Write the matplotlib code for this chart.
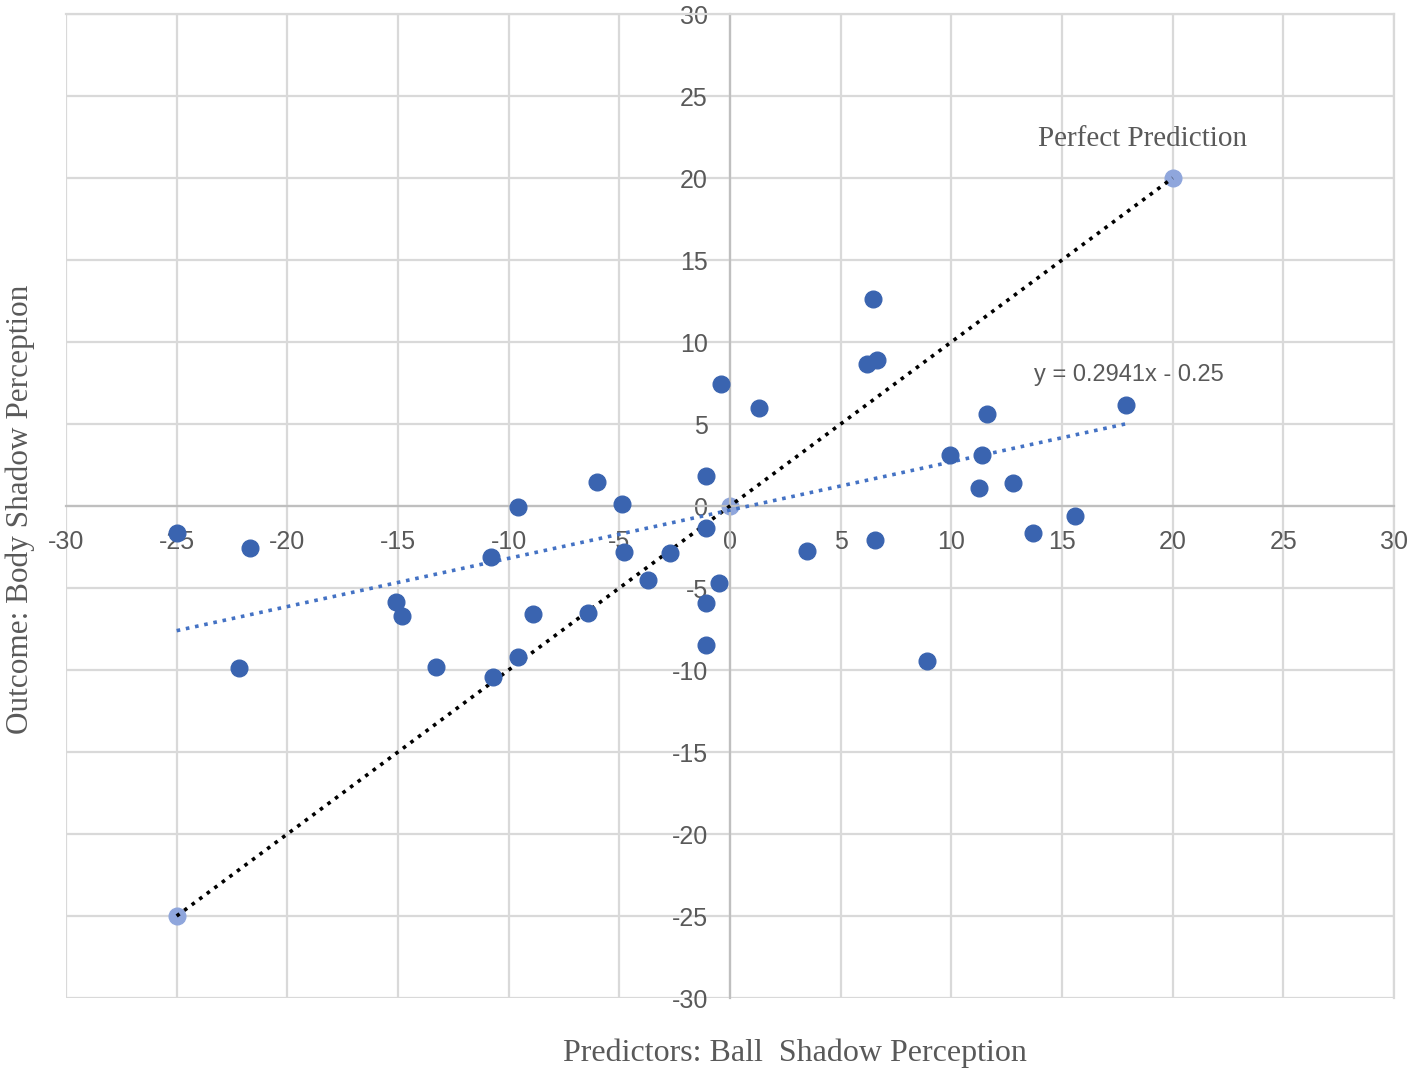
import numpy as np
import matplotlib.pyplot as plt

# Ball shadow (predictor) vs body shadow (outcome) scores
ball = [-25.0, -21.7, -22.2, -15.1, -14.8, -13.3, -10.8, -10.7, -9.6, -9.6,
        -8.9, -6.4, -6.0, -4.9, -4.8, -3.7, -2.7, -1.1, -1.1, -1.1,
        -1.1, -0.5, -0.4, 1.3, 3.5, 6.2, 6.45, 6.65, 6.55, 8.9,
        9.95, 11.25, 11.4, 11.6, 12.8, 13.7, 15.6, 17.9]
body = [-1.65, -2.55, -9.9, -5.85, -6.7, -9.8, -3.1, -10.4, -0.05, -9.2,
        -6.6, -6.5, 1.45, 0.1, -2.8, -4.5, -2.85, 1.8, -1.35, -5.9,
        -8.5, -4.7, 7.45, 6.0, -2.75, 8.65, 12.6, 8.9, -2.05, -9.45,
        3.1, 1.1, 3.1, 5.6, 1.4, -1.65, -0.6, 6.15]

perfect_x = [-25, 0, 20]
perfect_y = [-25, 0, 20]

slope, intercept = 0.2941, -0.25
ticks = list(range(-30, 31, 5))

label_grey = '#595959'
serif = ['Liberation Serif', 'DejaVu Serif']
sans = ['Liberation Sans', 'DejaVu Sans']

fig = plt.figure(figsize=(14.14, 10.76), dpi=100)
ax = fig.add_axes([66 / 1414, 1 - 998 / 1076, 1328 / 1414, 984 / 1076])

ax.set_xlim(-30, 30)
ax.set_ylim(-30, 30)
ax.set_xticks(ticks)
ax.set_yticks(ticks)
ax.grid(True, color='#d9d9d9', linewidth=1.6, zorder=0)
ax.set_axisbelow(True)

for side in ['left', 'bottom']:
    ax.spines[side].set_position('zero')
    ax.spines[side].set_color('#bfbfbf')
    ax.spines[side].set_linewidth(1.6)
for side in ['top', 'right']:
    ax.spines[side].set_color('#d9d9d9')
    ax.spines[side].set_linewidth(1.6)

ax.tick_params(length=0, labelsize=18, labelcolor=label_grey)
ax.tick_params(axis='x', pad=17)
ax.tick_params(axis='y', pad=16)
ax.set_xticklabels([str(t) for t in ticks], family=sans)
ax.set_yticklabels([str(t) for t in ticks], family=sans)

# perfect prediction line
ax.plot([perfect_x[0], perfect_x[-1]], [perfect_y[0], perfect_y[-1]],
        linestyle=(0, (1, 1.6)), color='black', linewidth=2.6, zorder=3)
ax.plot(perfect_x, perfect_y, 'o', color='#8fa6dc', markersize=12, zorder=2)

# linear trend of observed points
tx = np.array([min(ball), max(ball)])
ax.plot(tx, slope * tx + intercept, linestyle=(0, (1, 1.6)),
        color='#4472c4', linewidth=2.6, zorder=3)

ax.plot(ball, body, 'o', color='#3a64b0', markersize=12, zorder=4)

ax.text(13.75, 8.0, 'y = 0.2941x - 0.25', fontsize=17, color=label_grey,
        family=sans, va='center', ha='left')
ax.text(18.65, 22.4, 'Perfect Prediction', fontsize=21, color=label_grey,
        family=serif, va='center', ha='center')

fig.text(795 / 1414, 1 - 1053 / 1076, 'Predictors: Ball  Shadow Perception',
         fontsize=23, color=label_grey, family=serif, ha='center', va='center')
fig.text(20 / 1414, 1 - 509 / 1076, 'Outcome: Body Shadow Perception',
         fontsize=22.5, color=label_grey, family=serif, ha='center', va='center',
         rotation=90)

fig.savefig('out.png', dpi=100)
